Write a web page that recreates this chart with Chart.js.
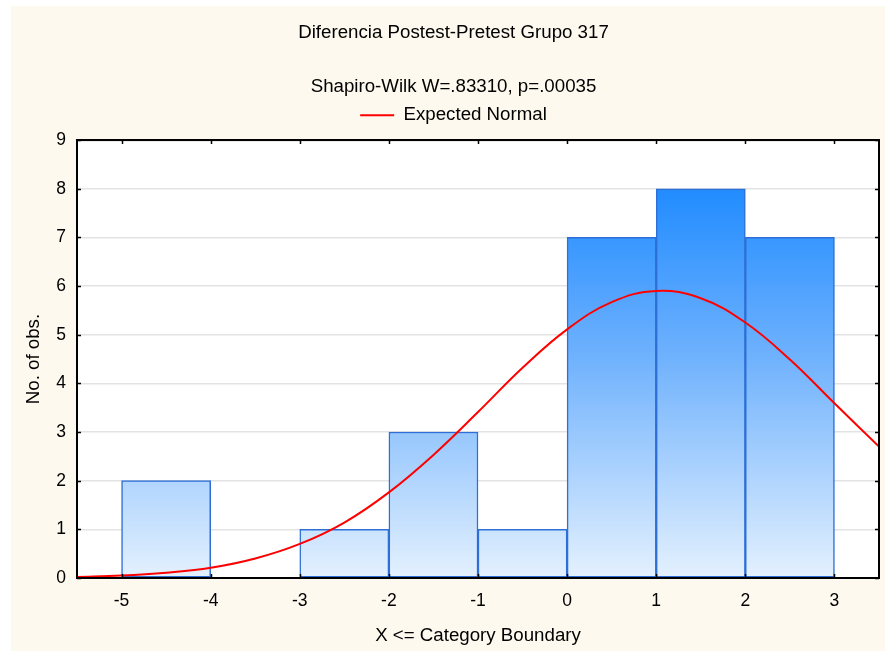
<!DOCTYPE html>
<html>
<head>
<meta charset="utf-8">
<script src="https://cdn.jsdelivr.net/npm/chart.js@4/dist/chart.umd.min.js"></script>
<style>
  html, body { margin: 0; padding: 0; background: #ffffff; }
  #paper { position: absolute; left: 11px; top: 6px; right: 0; bottom: 0; background: #fdf9ef; }
  #wrap { position: absolute; left: 0; top: 0; width: 885px; height: 651px; }
</style>
</head>
<body>
<div id="paper"></div>
<div id="wrap"><canvas id="myChart" width="885" height="651"></canvas></div>
<script>
"use strict";

// histogram: upper category boundaries and counts per category
var binUpper = [-4, -3, -2, -1, 0, 1, 2, 3];
var binCounts = [2, 0, 1, 3, 1, 7, 8, 7];

// expected normal curve, sampled every half unit
var curveX = [-5.5, -5, -4.5, -4, -3.5, -3, -2.5, -2, -1.5, -1, -0.5, 0, 0.5, 1, 1.5, 2, 2.5, 3, 3.5];
var curveY = [0.02, 0.05, 0.11, 0.21, 0.40, 0.70, 1.14, 1.76, 2.53, 3.41, 4.32, 5.11, 5.67, 5.90, 5.75, 5.25, 4.49, 3.59, 2.70];

var xTicks = [-5, -4, -3, -2, -1, 0, 1, 2, 3];
var yTicks = [0, 1, 2, 3, 4, 5, 6, 7, 8, 9];

var FONT = "'Liberation Sans', Arial, sans-serif";
var TEXT_SIZE = 18.7;
var TICK_SIZE = 17.5;

var bars = binUpper.map(function(b, i) {
  return { x: b - 0.5, y: binCounts[i] };
});
var curve = curveX.map(function(x, i) {
  return { x: x, y: curveY[i] };
});

function barGradient(context) {
  var chart = context.chart;
  var area = chart.chartArea;
  if (!area) {
    return '#7fb8fc';
  }
  var g = chart.ctx.createLinearGradient(0, area.top, 0, area.bottom);
  g.addColorStop(0, '#0c7cff');
  g.addColorStop(0.11, '#218cff');
  g.addColorStop(0.5, '#70b2fd');
  g.addColorStop(1, '#e4f1fe');
  return g;
}

// white plot background, black frame and inward ticks on all four sides
var framePlugin = {
  id: 'frame',
  beforeDraw: function(chart) {
    var a = chart.chartArea;
    var ctx = chart.ctx;
    ctx.save();
    ctx.fillStyle = '#ffffff';
    ctx.fillRect(a.left, a.top, a.right - a.left, a.bottom - a.top);
    ctx.restore();
  },
  afterDraw: function(chart) {
    var a = chart.chartArea;
    var ctx = chart.ctx;
    var xs = chart.scales.x;
    var ys = chart.scales.y;
    ctx.save();
    ctx.strokeStyle = '#000000';
    ctx.lineWidth = 2;
    ctx.strokeRect(a.left, a.top, a.right - a.left, a.bottom - a.top);
    ctx.lineWidth = 1.5;
    ctx.beginPath();
    xTicks.forEach(function(v) {
      var px = Math.round(xs.getPixelForValue(v)) + 0.5;
      ctx.moveTo(px, a.bottom);
      ctx.lineTo(px, a.bottom - 4);
      ctx.moveTo(px, a.top);
      ctx.lineTo(px, a.top + 4);
    });
    yTicks.forEach(function(v) {
      var py = Math.round(ys.getPixelForValue(v)) + 0.5;
      ctx.moveTo(a.left, py);
      ctx.lineTo(a.left + 4, py);
      ctx.moveTo(a.right, py);
      ctx.lineTo(a.right - 4, py);
    });
    ctx.stroke();
    ctx.restore();
  }
};

var ctx = document.getElementById('myChart').getContext('2d');
var myChart = new Chart(ctx, {
  data: {
    datasets: [
      {
        type: 'bar',
        label: 'No. of obs.',
        data: bars,
        backgroundColor: barGradient,
        borderColor: '#2d6fd6',
        borderWidth: 1.5,
        borderSkipped: false,
        barPercentage: 1,
        categoryPercentage: 1,
        order: 2
      },
      {
        type: 'line',
        label: 'Expected Normal',
        data: curve,
        borderColor: '#ff0000',
        backgroundColor: '#ff0000',
        borderWidth: 2,
        pointRadius: 0,
        tension: 0.4,
        fill: false,
        order: 1
      }
    ]
  },
  plugins: [framePlugin],
  options: {
    responsive: false,
    animation: false,
    devicePixelRatio: 1,
    layout: {
      padding: { left: 22, right: 0, top: 0, bottom: 0 }
    },
    plugins: {
      title: {
        display: true,
        text: 'Diferencia Postest-Pretest Grupo 317',
        color: '#000000',
        font: { family: FONT, size: TEXT_SIZE, weight: 'normal' },
        padding: { top: 21.8, bottom: 0 }
      },
      subtitle: {
        display: true,
        text: 'Shapiro-Wilk W=.83310, p=.00035',
        color: '#000000',
        font: { family: FONT, size: TEXT_SIZE, weight: 'normal' },
        padding: { top: 31.6, bottom: 0 }
      },
      legend: {
        display: true,
        labels: {
          color: '#000000',
          font: { family: FONT, size: TEXT_SIZE },
          usePointStyle: true,
          pointStyle: 'line',
          pointStyleWidth: 34,
          padding: 7.5,
          filter: function(item) {
            return item.text === 'Expected Normal';
          }
        }
      },
      tooltip: { enabled: false }
    },
    scales: {
      x: {
        type: 'linear',
        min: -5.5,
        max: 3.5,
        offset: false,
        afterBuildTicks: function(axis) {
          axis.ticks = xTicks.map(function(v) { return { value: v }; });
        },
        afterFit: function(scale) {
          scale.height = 73;
        },
        grid: { display: false, drawTicks: false, offset: false },
        border: { display: false },
        ticks: {
          color: '#000000',
          font: { family: FONT, size: TICK_SIZE },
          padding: 12.5,
          maxRotation: 0
        },
        title: {
          display: true,
          text: 'X <= Category Boundary',
          color: '#000000',
          font: { family: FONT, size: TEXT_SIZE },
          padding: { top: 0, bottom: 4 }
        }
      },
      // top axis: carries the upper frame line and the gap under the legend
      x2: {
        type: 'linear',
        position: 'top',
        min: -5.5,
        max: 3.5,
        afterFit: function(scale) {
          scale.height = 5.6;
        },
        grid: { display: false, drawTicks: false },
        border: { display: true, color: '#000000', width: 2 },
        ticks: { display: false }
      },
      y: {
        type: 'linear',
        min: 0,
        max: 9,
        afterBuildTicks: function(axis) {
          axis.ticks = yTicks.map(function(v) { return { value: v }; });
        },
        afterFit: function(scale) {
          scale.width = 55;
        },
        grid: { color: '#e3e3e3', lineWidth: 1.5, drawTicks: false },
        border: { display: false },
        ticks: {
          color: '#000000',
          font: { family: FONT, size: TICK_SIZE },
          padding: 11
        },
        title: {
          display: true,
          text: 'No. of obs.',
          color: '#000000',
          font: { family: FONT, size: TEXT_SIZE },
          padding: { top: 1, bottom: 0 }
        }
      },
      // right axis: frame line on the right and the strip of paper beside it
      y2: {
        type: 'linear',
        position: 'right',
        min: 0,
        max: 9,
        afterFit: function(scale) {
          scale.width = 6;
        },
        grid: { display: false, drawTicks: false },
        border: { display: true, color: '#000000', width: 2 },
        ticks: { display: false }
      }
    }
  }
});
</script>
</body>
</html>
